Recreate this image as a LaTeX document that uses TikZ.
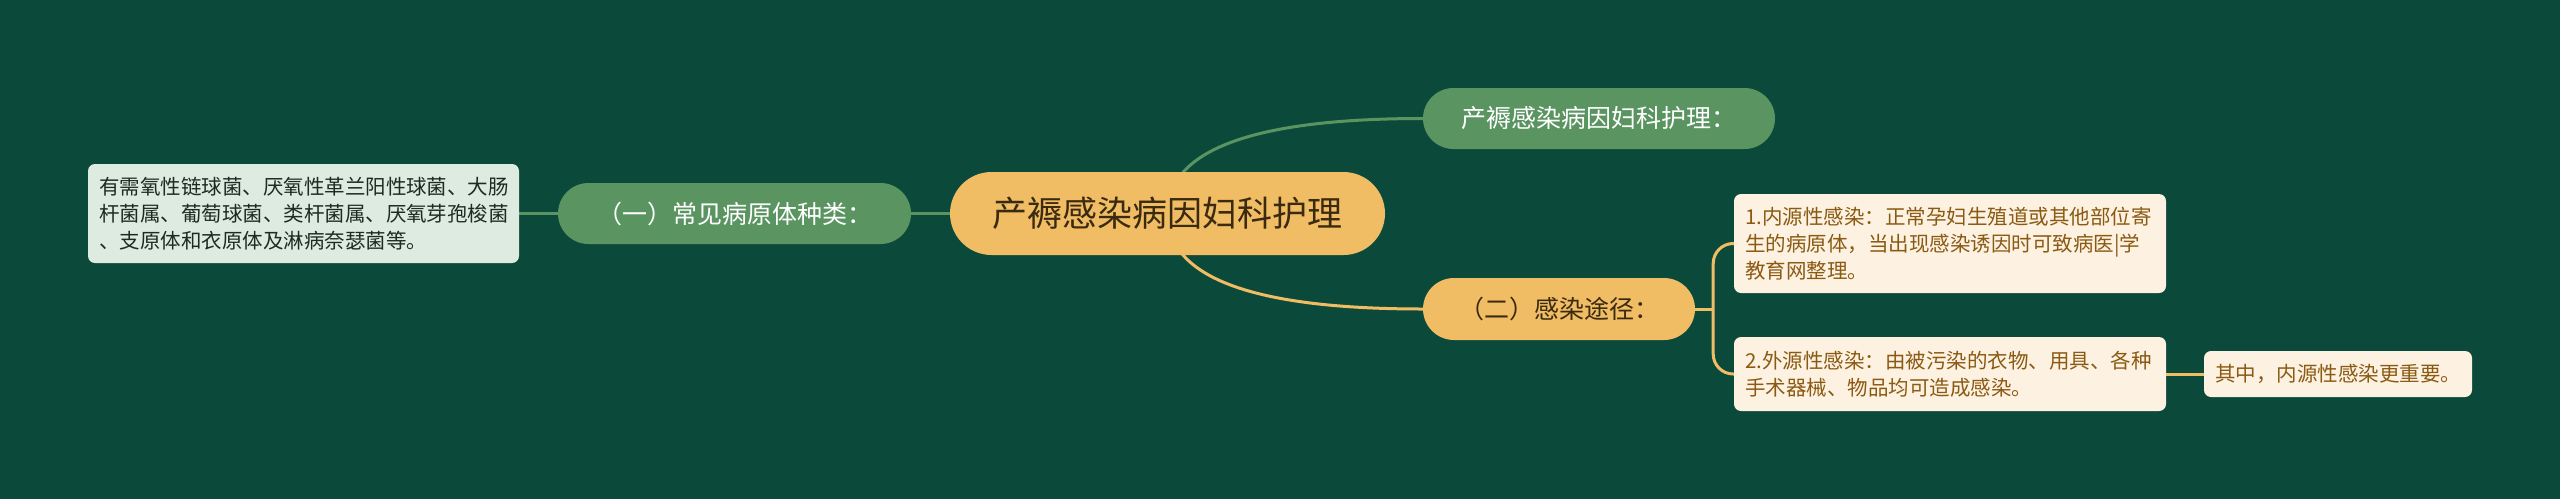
\documentclass[tikz,border=0pt]{standalone}
\usepackage{fontspec}
\setmainfont{Noto Sans CJK SC}
\usetikzlibrary{backgrounds}
\definecolor{bgc}{HTML}{0B4A3A}
\definecolor{gfill}{HTML}{5A9461}
\definecolor{ofill}{HTML}{F0BC64}
\definecolor{lgfill}{HTML}{DDEBE0}
\definecolor{crfill}{HTML}{FDF1E2}
\definecolor{leaftext}{HTML}{8A5A12}
\definecolor{dtext}{HTML}{3A2A10}
\definecolor{gtext}{HTML}{1E2A24}
\begin{document}
\begin{tikzpicture}[x=1pt,y=-1pt,
  rootbox/.style={fill=ofill, text=dtext, rounded corners=41.5pt, minimum width=435pt, minimum height=83pt, inner sep=0pt, font=\fontsize{35}{42}\selectfont},
  gpill/.style={fill=gfill, text=white, rounded corners=30.5pt, minimum height=61pt, inner sep=0pt, font=\fontsize{25}{30}\selectfont},
  opill/.style={fill=ofill, text=dtext, rounded corners=31pt, minimum height=62pt, inner sep=0pt, font=\fontsize{25}{30}\selectfont},
  gleaf/.style={fill=lgfill, text=gtext, rounded corners=7pt, inner sep=0pt, align=left, font=\fontsize{20.5}{27}\selectfont},
  cleaf/.style={fill=crfill, text=leaftext, rounded corners=7pt, inner sep=0pt, align=left, font=\fontsize{20.5}{26.7}\selectfont},
  gline/.style={draw=gfill, line width=3pt},
  oline/.style={draw=ofill, line width=3pt}]
\useasboundingbox (0,0) rectangle (2560,499);

\node[rootbox] (root) at (1167.5,213.5) {产褥感染病因妇科护理};
\node[gpill, minimum width=353pt] (g1) at (734.5,213.5) {（一）常见病原体种类：};
\node[gleaf, minimum width=431pt, minimum height=99pt, text width=409pt] (lL) at (303.5,213.5)
  {有需氧性链球菌、厌氧性革兰阳性球菌、大肠\\杆菌属、葡萄球菌、类杆菌属、厌氧芽孢梭菌\\、支原体和衣原体及淋病奈瑟菌等。};
\node[gpill, minimum width=352pt] (tr) at (1599,118.5) {产褥感染病因妇科护理：};
\node[opill, minimum width=272pt] (o2) at (1559,309) {（二）感染途径：};
\node[cleaf, minimum width=432pt, minimum height=99pt, text width=410pt] (l1) at (1950,243.5)
  {1.内源性感染：正常孕妇生殖道或其他部位寄\\生的病原体，当出现感染诱因时可致病医|学\\教育网整理。};
\node[cleaf, minimum width=432pt, minimum height=74pt, text width=410pt] (l2) at (1950,374)
  {2.外源性感染：由被污染的衣物、用具、各种\\手术器械、物品均可造成感染。};
\node[cleaf, minimum width=268pt, minimum height=46pt, text width=246pt] (l3) at (2338,374)
  {其中，内源性感染更重要。};

\begin{pgfonlayer}{background}
\fill[bgc] (0,0) rectangle (2560,499);
\draw[gline] (root.west) -- (g1.east);
\draw[gline] (g1.west) -- (lL.east);
\draw[gline] (root.center) .. controls +(0,-63.3) and +(-170.7,0) .. (tr.west);
\draw[oline] (root.center) .. controls +(0,64) and +(-170.7,0) .. (o2.west);
\draw[oline] (o2.east) -- ++(18,0) coordinate (j);
\draw[oline, rounded corners=20pt] (j) |- (l1.west);
\draw[oline, rounded corners=20pt] (j) |- (l2.west);
\draw[oline] (l2.east) -- (l3.west);
\end{pgfonlayer}
\end{tikzpicture}
\end{document}
